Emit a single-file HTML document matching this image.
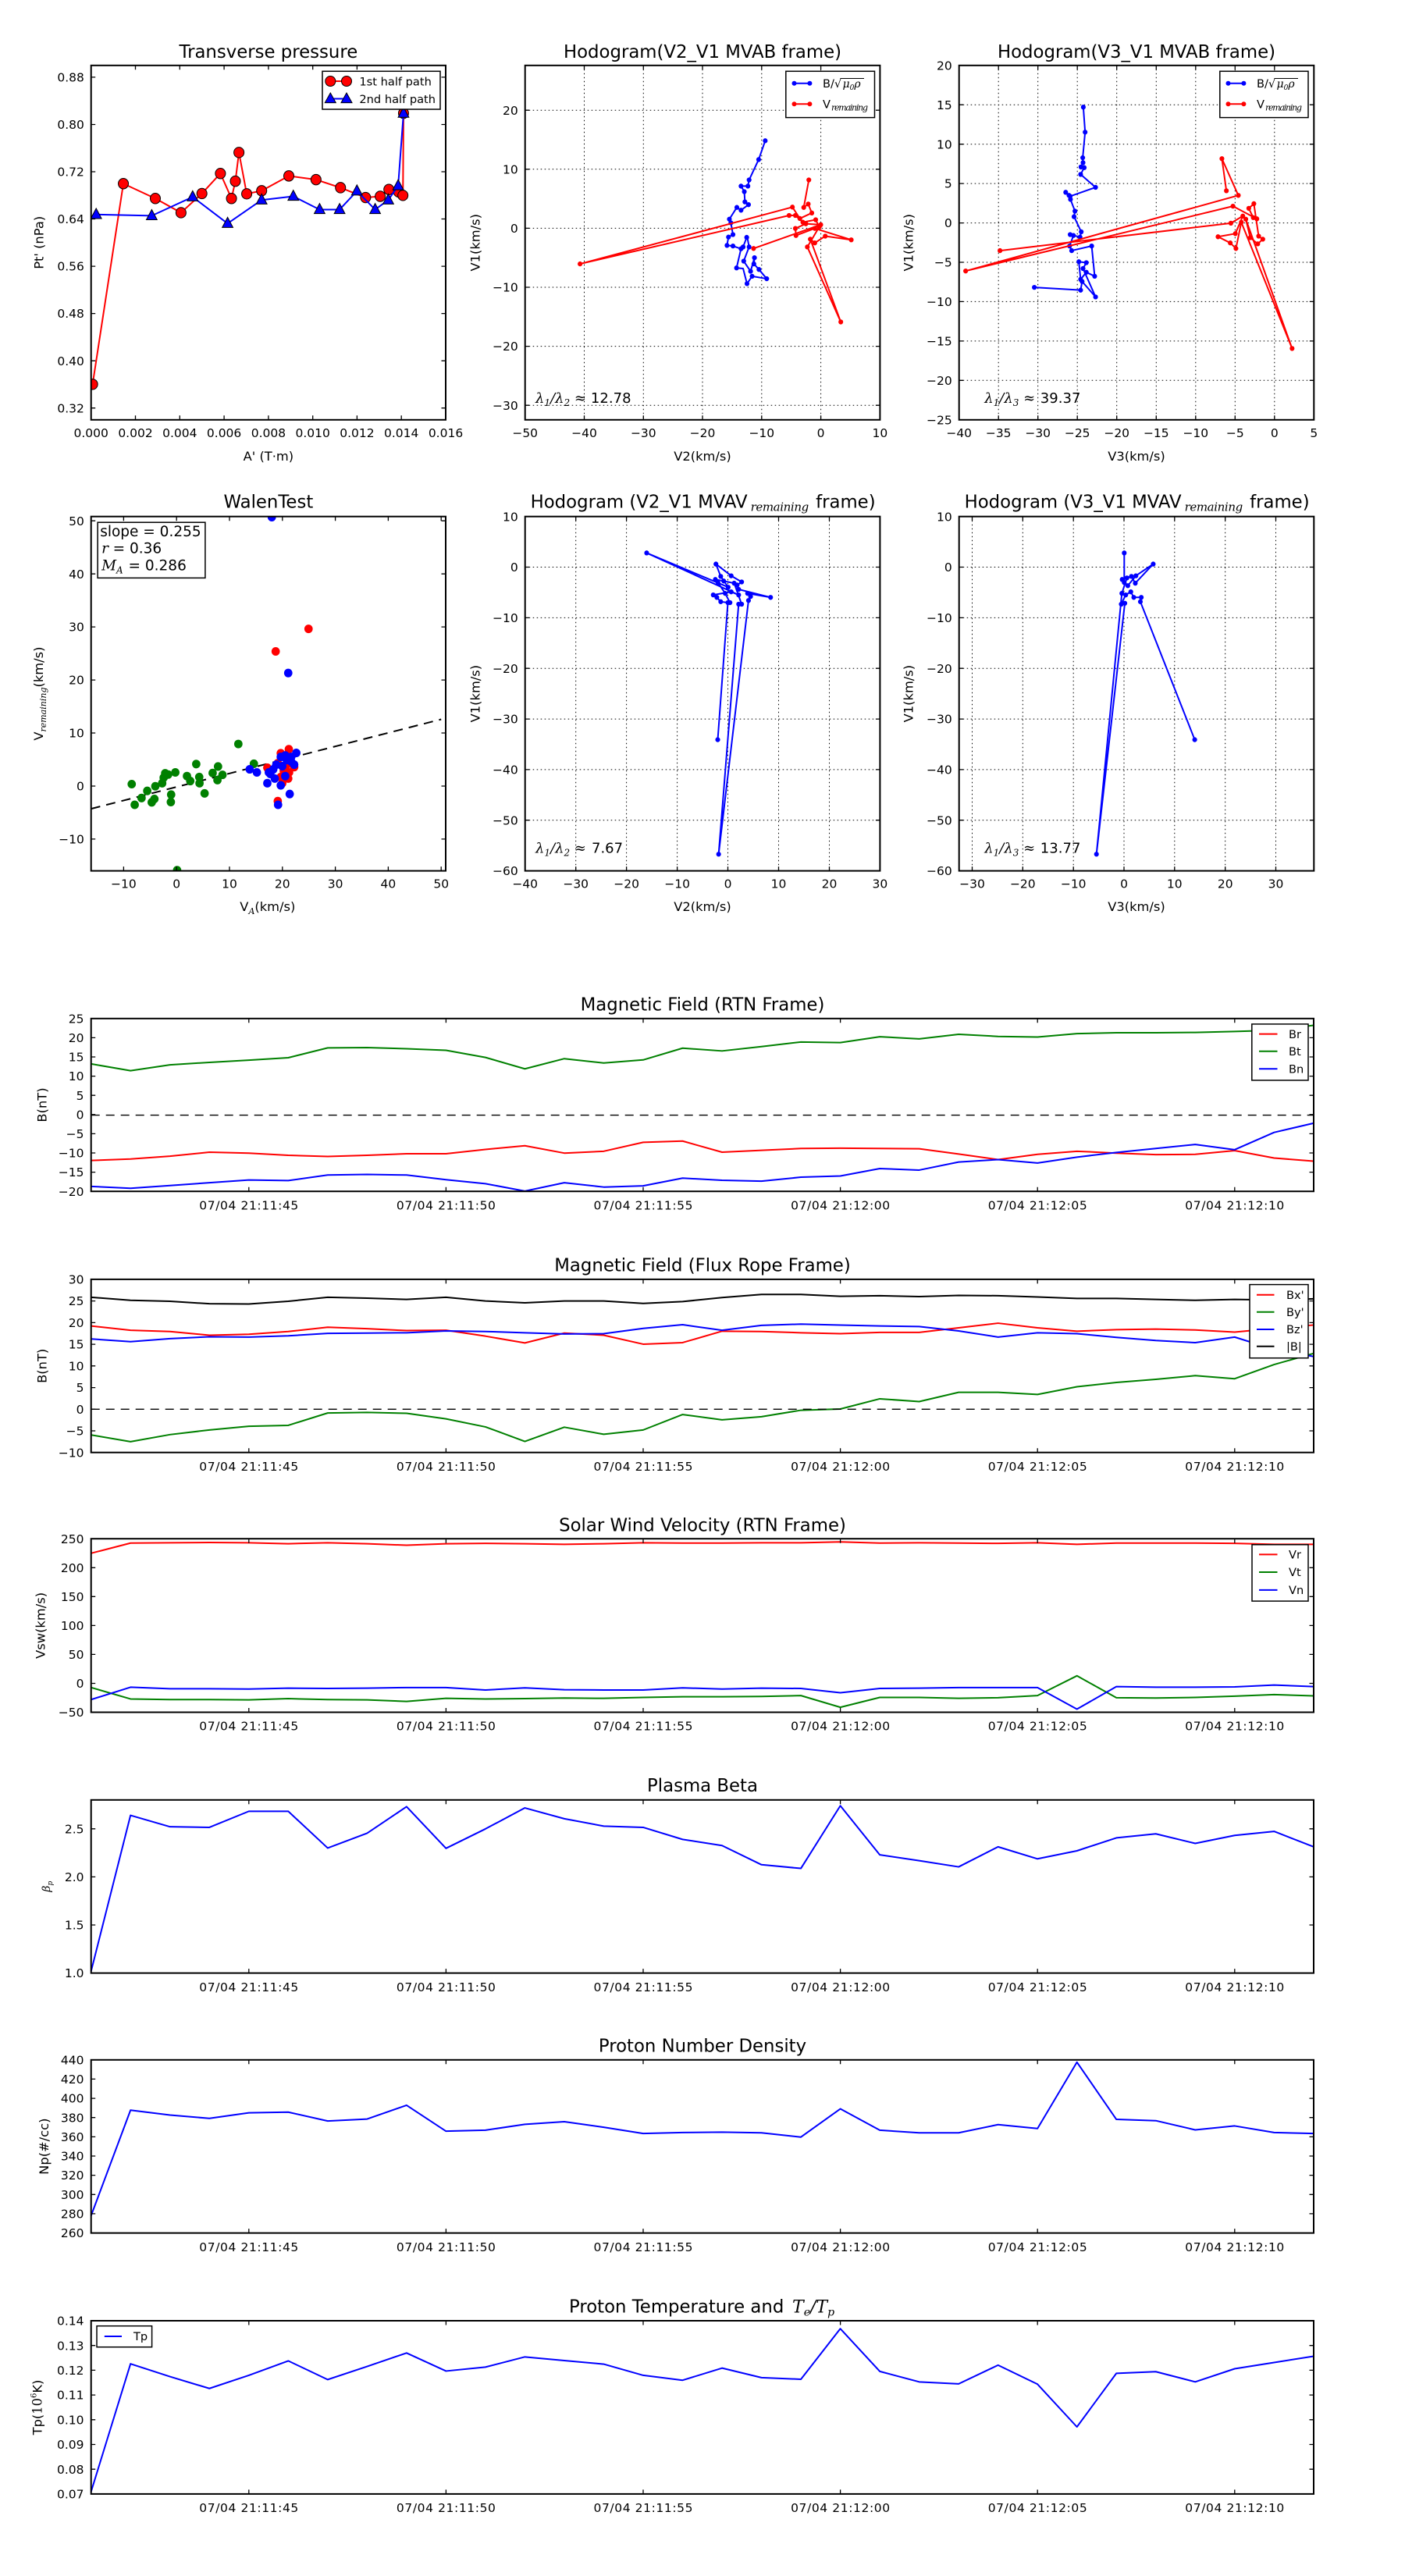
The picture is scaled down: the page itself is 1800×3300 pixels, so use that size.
<!DOCTYPE html>
<html><head><meta charset="utf-8">
<style>
html,body{margin:0;padding:0;background:#fff}
svg{display:block}
text{font-family:"DejaVu Sans","Liberation Sans",sans-serif;fill:#000}
.tk{font-size:15.5px}
.e{text-anchor:end}
.m{text-anchor:middle}
.lab{font-size:16.3px}
.ttl{font-size:22.8px;text-anchor:middle}
.ttls{font-size:22.8px}
.lg{font-size:14.6px}
.ser{font-family:"DejaVu Serif","Liberation Serif",serif;font-style:italic}
.fr{fill:none;stroke:#000;stroke-width:2}
.tick{stroke:#000;stroke-width:1.3;fill:none}
.grid{stroke:#000;stroke-width:1;stroke-dasharray:1.5 3.5;fill:none}
.ln{fill:none;stroke-width:2;stroke-linejoin:round;vector-effect:non-scaling-stroke}
</style></head><body>
<svg width="1800" height="3300" xmlns="http://www.w3.org/2000/svg">
<rect width="1800" height="3300" fill="#fff"/>
<defs>
<clipPath id="cTP"><rect x="116.7" y="83.8" width="454.3" height="454"/></clipPath>
<clipPath id="cW"><rect x="116.7" y="661.7" width="454.3" height="453.9"/></clipPath>
</defs>

<!-- ============ Transverse pressure ============ -->
<text class="ttl" x="343.9" y="73.9">Transverse pressure</text>
<g clip-path="url(#cTP)"><g transform="scale(0.38265 0.39541)">
<polyline class="ln" vector-effect="non-scaling-stroke" stroke="#f00" points="310,1245 413,595 520,643 606,689 676,627 738,562 775,643 788,587 800,494 826,628 876,618 967,570 1058,582 1140,608 1224,640 1273,636 1302,614 1335,622 1349,633 1351,367"/>
<g fill="#f00" stroke="#000" stroke-width="1" vector-effect="non-scaling-stroke">
<circle cx="310" cy="1245" r="17" vector-effect="non-scaling-stroke"/><circle cx="413" cy="595" r="17" vector-effect="non-scaling-stroke"/><circle cx="520" cy="643" r="17" vector-effect="non-scaling-stroke"/><circle cx="606" cy="689" r="17" vector-effect="non-scaling-stroke"/><circle cx="676" cy="627" r="17" vector-effect="non-scaling-stroke"/><circle cx="738" cy="562" r="17" vector-effect="non-scaling-stroke"/><circle cx="775" cy="643" r="17" vector-effect="non-scaling-stroke"/><circle cx="788" cy="587" r="17" vector-effect="non-scaling-stroke"/><circle cx="800" cy="494" r="17" vector-effect="non-scaling-stroke"/><circle cx="826" cy="628" r="17" vector-effect="non-scaling-stroke"/><circle cx="876" cy="618" r="17" vector-effect="non-scaling-stroke"/><circle cx="967" cy="570" r="17" vector-effect="non-scaling-stroke"/><circle cx="1058" cy="582" r="17" vector-effect="non-scaling-stroke"/><circle cx="1140" cy="608" r="17" vector-effect="non-scaling-stroke"/><circle cx="1224" cy="640" r="17" vector-effect="non-scaling-stroke"/><circle cx="1273" cy="636" r="17" vector-effect="non-scaling-stroke"/><circle cx="1302" cy="614" r="17" vector-effect="non-scaling-stroke"/><circle cx="1335" cy="622" r="17" vector-effect="non-scaling-stroke"/><circle cx="1349" cy="633" r="17" vector-effect="non-scaling-stroke"/><circle cx="1351" cy="367" r="17" vector-effect="non-scaling-stroke"/>
</g>
<polyline class="ln" vector-effect="non-scaling-stroke" stroke="#00f" points="322,695 508,699 645,638 762,724 876,648 982,636 1070,679 1137,679 1195,619 1256,679 1300,648 1333,602 1351,367"/>
<path fill="#00f" stroke="#000" stroke-width="1" vector-effect="non-scaling-stroke" d="M322 675l-18 33h36zM508 679l-18 33h36zM645 618l-18 33h36zM762 704l-18 33h36zM876 628l-18 33h36zM982 616l-18 33h36zM1070 659l-18 33h36zM1137 659l-18 33h36zM1195 599l-18 33h36zM1256 659l-18 33h36zM1300 628l-18 33h36zM1333 582l-18 33h36zM1351 347l-18 33h36z"/>
</g></g>
<rect class="fr" x="116.7" y="83.8" width="454.3" height="454"/>
<path class="tick" d="M173.5 537.8v-5.5M230.3 537.8v-5.5M287.1 537.8v-5.5M343.9 537.8v-5.5M400.7 537.8v-5.5M457.4 537.8v-5.5M514.2 537.8v-5.5M173.5 83.8v5.5M230.3 83.8v5.5M287.1 83.8v5.5M343.9 83.8v5.5M400.7 83.8v5.5M457.4 83.8v5.5M514.2 83.8v5.5M116.7 98.9h5.5M116.7 159.5h5.5M116.7 220h5.5M116.7 280.5h5.5M116.7 341.1h5.5M116.7 401.6h5.5M116.7 462.2h5.5M116.7 522.7h5.5M571 98.9h-5.5M571 159.5h-5.5M571 220h-5.5M571 280.5h-5.5M571 341.1h-5.5M571 401.6h-5.5M571 462.2h-5.5M571 522.7h-5.5"/>
<g class="tk m">
<text class="tk m" x="116.7" y="559.8">0.000</text><text class="tk m" x="173.5" y="559.8">0.002</text><text class="tk m" x="230.3" y="559.8">0.004</text><text class="tk m" x="287.1" y="559.8">0.006</text><text class="tk m" x="343.9" y="559.8">0.008</text><text class="tk m" x="400.7" y="559.8">0.010</text><text class="tk m" x="457.4" y="559.8">0.012</text><text class="tk m" x="514.2" y="559.8">0.014</text><text class="tk m" x="571" y="559.8">0.016</text>
</g>
<text class="tk e" x="107.9" y="104.5">0.88</text><text class="tk e" x="107.9" y="165.1">0.80</text><text class="tk e" x="107.9" y="225.6">0.72</text><text class="tk e" x="107.9" y="286.1">0.64</text><text class="tk e" x="107.9" y="346.7">0.56</text><text class="tk e" x="107.9" y="407.2">0.48</text><text class="tk e" x="107.9" y="467.8">0.40</text><text class="tk e" x="107.9" y="528.3">0.32</text>
<text class="lab m" x="343.9" y="590">A' (T·m)</text>
<text class="lab m" transform="translate(55.7 310.8) rotate(-90)">Pt' (nPa)</text>
<rect x="413" y="91.3" width="151" height="48.7" fill="#fff" stroke="#000" stroke-width="1.5"/>
<line x1="423.3" y1="104" x2="444" y2="104" stroke="#f00" stroke-width="2"/>
<circle cx="423.3" cy="104" r="6.5" fill="#f00" stroke="#000" stroke-width="1"/><circle cx="444" cy="104" r="6.5" fill="#f00" stroke="#000" stroke-width="1"/>
<text class="lg" x="460.4" y="109.4">1st half path</text>
<line x1="423.3" y1="126.5" x2="444" y2="126.5" stroke="#00f" stroke-width="2"/>
<path fill="#00f" stroke="#000" stroke-width="1" d="M423.3 119l-7 12.6h14zM444 119l-7 12.6h14z"/>
<text class="lg" x="460.4" y="131.8">2nd half path</text>

<!-- ============ Hodogram V2_V1 MVAB ============ -->
<text class="ttl" x="900" y="73.9">Hodogram(V2_V1 MVAB frame)</text>
<path class="grid" d="M748.5 83.8V537.8M824.3 83.8V537.8M900 83.8V537.8M975.8 83.8V537.8M1051.6 83.8V537.8M672.7 141.2H1127.4M672.7 216.8H1127.4M672.7 292.4H1127.4M672.7 368H1127.4M672.7 443.6H1127.4M672.7 519.2H1127.4"/>
<g transform="translate(600 0) scale(0.38265 0.39541)">
<polyline class="ln" vector-effect="non-scaling-stroke" stroke="#00f" points="994,456 972,517 940,583 936,603 913,603 924,621 926,654 938,663 913,681 899,672 874,710 879,722 886,760 871,768 866,795 886,797 913,806 920,800 932,769 935,774 940,800 922,846 945,879 958,835 956,855 973,873 999,903 950,895 933,919 920,870 898,868 913,806"/>
<g fill="#00f"><circle cx="994" cy="456" r="8"/><circle cx="972" cy="517" r="8"/><circle cx="940" cy="583" r="8"/><circle cx="936" cy="603" r="8"/><circle cx="913" cy="603" r="8"/><circle cx="924" cy="621" r="8"/><circle cx="926" cy="654" r="8"/><circle cx="938" cy="663" r="8"/><circle cx="913" cy="681" r="8"/><circle cx="899" cy="672" r="8"/><circle cx="874" cy="710" r="8"/><circle cx="879" cy="722" r="8"/><circle cx="886" cy="760" r="8"/><circle cx="871" cy="768" r="8"/><circle cx="866" cy="795" r="8"/><circle cx="886" cy="797" r="8"/><circle cx="913" cy="806" r="8"/><circle cx="920" cy="800" r="8"/><circle cx="932" cy="769" r="8"/><circle cx="940" cy="800" r="8"/><circle cx="922" cy="846" r="8"/><circle cx="945" cy="879" r="8"/><circle cx="958" cy="835" r="8"/><circle cx="956" cy="855" r="8"/><circle cx="973" cy="873" r="8"/><circle cx="999" cy="903" r="8"/><circle cx="950" cy="895" r="8"/><circle cx="933" cy="919" r="8"/><circle cx="898" cy="868" r="8"/></g>
<polyline class="ln" vector-effect="non-scaling-stroke" stroke="#f00" points="1140,583 1123,672 1138,661 1150,690 1110,708 1085,671 374,855 1074,698 1095,698 1120,720 1163,712 1175,735 1135,800 1247,1043 1145,775 1160,787 1195,765 1282,777 1160,740 1097,763 1095,740 1130,725 1180,728 955,805"/>
<g fill="#f00"><circle cx="1140" cy="583" r="8"/><circle cx="1123" cy="672" r="8"/><circle cx="1138" cy="661" r="8"/><circle cx="1150" cy="690" r="8"/><circle cx="1110" cy="708" r="8"/><circle cx="1085" cy="671" r="8"/><circle cx="374" cy="855" r="8"/><circle cx="1074" cy="698" r="8"/><circle cx="1095" cy="698" r="8"/><circle cx="1120" cy="720" r="8"/><circle cx="1163" cy="712" r="8"/><circle cx="1175" cy="735" r="8"/><circle cx="1135" cy="800" r="8"/><circle cx="1247" cy="1043" r="8"/><circle cx="1145" cy="775" r="8"/><circle cx="1160" cy="787" r="8"/><circle cx="1195" cy="765" r="8"/><circle cx="1282" cy="777" r="8"/><circle cx="1160" cy="740" r="8"/><circle cx="1097" cy="763" r="8"/><circle cx="1095" cy="740" r="8"/><circle cx="1130" cy="725" r="8"/><circle cx="1180" cy="728" r="8"/><circle cx="955" cy="805" r="8"/></g>
</g>
<rect class="fr" x="672.7" y="83.8" width="454.7" height="454"/>
<path class="tick" d="M748.5 537.8v-5.5M824.3 537.8v-5.5M900 537.8v-5.5M975.8 537.8v-5.5M1051.6 537.8v-5.5M748.5 83.8v5.5M824.3 83.8v5.5M900 83.8v5.5M975.8 83.8v5.5M1051.6 83.8v5.5M672.7 141.2h5.5M672.7 216.8h5.5M672.7 292.4h5.5M672.7 368h5.5M672.7 443.6h5.5M672.7 519.2h5.5M1127.4 141.2h-5.5M1127.4 216.8h-5.5M1127.4 292.4h-5.5M1127.4 368h-5.5M1127.4 443.6h-5.5M1127.4 519.2h-5.5"/>
<text class="tk m" x="672.7" y="559.8">−50</text><text class="tk m" x="748.5" y="559.8">−40</text><text class="tk m" x="824.3" y="559.8">−30</text><text class="tk m" x="900" y="559.8">−20</text><text class="tk m" x="975.8" y="559.8">−10</text><text class="tk m" x="1051.6" y="559.8">0</text><text class="tk m" x="1127.4" y="559.8">10</text>
<text class="tk e" x="663.7" y="146.8">20</text><text class="tk e" x="663.7" y="222.4">10</text><text class="tk e" x="663.7" y="298">0</text><text class="tk e" x="663.7" y="373.6">−10</text><text class="tk e" x="663.7" y="449.2">−20</text><text class="tk e" x="663.7" y="524.8">−30</text>
<text class="lab m" x="900" y="590">V2(km/s)</text>
<text class="lab m" transform="translate(614.3 310.8) rotate(-90)">V1(km/s)</text>
<text class="ser" x="686" y="516" font-size="18">λ<tspan font-size="12" dy="4">1</tspan><tspan dy="-4">/λ</tspan><tspan font-size="12" dy="4">2</tspan><tspan dy="-4"> ≈</tspan></text>
<text x="756.9" y="516" font-size="18" textLength="51.7">12.78</text>
<rect x="1006.8" y="91.3" width="113.7" height="59.3" fill="#fff" stroke="#000" stroke-width="1.5"/>
<line x1="1017.5" y1="106.8" x2="1037.4" y2="106.8" stroke="#00f" stroke-width="2"/><circle cx="1017.5" cy="106.8" r="3" fill="#00f"/><circle cx="1037.4" cy="106.8" r="3" fill="#00f"/>
<text class="lg" x="1054" y="112">B/√</text><line x1="1076.4" y1="100.5" x2="1107" y2="100.5" stroke="#000" stroke-width="0.9"/>
<text class="ser" x="1079.5" y="112" font-size="14">μ<tspan font-size="9" dy="3">0</tspan><tspan dy="-3">ρ</tspan></text>
<line x1="1017.5" y1="133.3" x2="1037.4" y2="133.3" stroke="#f00" stroke-width="2"/><circle cx="1017.5" cy="133.3" r="3" fill="#f00"/><circle cx="1037.4" cy="133.3" r="3" fill="#f00"/>
<text class="lg" x="1054" y="138.5">V</text><text class="ser" x="1065" y="141.5" font-size="11" textLength="47">remaining</text>

<!-- ============ Hodogram V3_V1 MVAB ============ -->
<text class="ttl" x="1456" y="73.9">Hodogram(V3_V1 MVAB frame)</text>
<path class="grid" d="M1279.2 83.8V537.8M1329.7 83.8V537.8M1380.2 83.8V537.8M1430.7 83.8V537.8M1481.3 83.8V537.8M1531.8 83.8V537.8M1582.3 83.8V537.8M1632.8 83.8V537.8M1228.7 134.2H1683.3M1228.7 184.7H1683.3M1228.7 235.1H1683.3M1228.7 285.6H1683.3M1228.7 336H1683.3M1228.7 386.4H1683.3M1228.7 436.9H1683.3M1228.7 487.3H1683.3"/>
<g transform="translate(1200 0) scale(0.38265 0.39541)">
<polyline class="ln" vector-effect="non-scaling-stroke" stroke="#00f" points="491,347 497,428 489,511 490,527 483,541 494,543 482,565 532,607 447,636 432,623 443,633 448,646 463,684 460,702 484,751 480,768 447,760 458,763 445,797 452,812 519,797 529,895 501,882 482,905 476,848 501,851 490,870 532,962 487,912 482,940 327,931"/>
<g fill="#00f"><circle cx="491" cy="347" r="8"/><circle cx="497" cy="428" r="8"/><circle cx="489" cy="511" r="8"/><circle cx="490" cy="527" r="8"/><circle cx="483" cy="541" r="8"/><circle cx="494" cy="543" r="8"/><circle cx="482" cy="565" r="8"/><circle cx="532" cy="607" r="8"/><circle cx="447" cy="636" r="8"/><circle cx="432" cy="623" r="8"/><circle cx="443" cy="633" r="8"/><circle cx="448" cy="646" r="8"/><circle cx="463" cy="684" r="8"/><circle cx="460" cy="702" r="8"/><circle cx="484" cy="751" r="8"/><circle cx="480" cy="768" r="8"/><circle cx="447" cy="760" r="8"/><circle cx="458" cy="763" r="8"/><circle cx="445" cy="797" r="8"/><circle cx="452" cy="812" r="8"/><circle cx="519" cy="797" r="8"/><circle cx="529" cy="895" r="8"/><circle cx="501" cy="882" r="8"/><circle cx="482" cy="905" r="8"/><circle cx="476" cy="848" r="8"/><circle cx="501" cy="851" r="8"/><circle cx="490" cy="870" r="8"/><circle cx="532" cy="962" r="8"/><circle cx="487" cy="912" r="8"/><circle cx="482" cy="940" r="8"/><circle cx="327" cy="931" r="8"/></g>
<polyline class="ln" vector-effect="non-scaling-stroke" stroke="#f00" points="212,812 985,723 1025,700 1000,757 942,767 983,787 1002,805 1020,720 1190,1129 1035,710 1050,770 1075,790 1092,775 1078,765 1062,660 1045,675 1060,705 1072,709 992,668 97,878 1010,633 955,514 970,618"/>
<g fill="#f00"><circle cx="212" cy="812" r="8"/><circle cx="985" cy="723" r="8"/><circle cx="1025" cy="700" r="8"/><circle cx="1000" cy="757" r="8"/><circle cx="942" cy="767" r="8"/><circle cx="983" cy="787" r="8"/><circle cx="1002" cy="805" r="8"/><circle cx="1020" cy="720" r="8"/><circle cx="1190" cy="1129" r="8"/><circle cx="1035" cy="710" r="8"/><circle cx="1050" cy="770" r="8"/><circle cx="1075" cy="790" r="8"/><circle cx="1092" cy="775" r="8"/><circle cx="1078" cy="765" r="8"/><circle cx="1062" cy="660" r="8"/><circle cx="1045" cy="675" r="8"/><circle cx="1060" cy="705" r="8"/><circle cx="1072" cy="709" r="8"/><circle cx="992" cy="668" r="8"/><circle cx="97" cy="878" r="8"/><circle cx="1010" cy="633" r="8"/><circle cx="955" cy="514" r="8"/><circle cx="970" cy="618" r="8"/></g>
</g>
<rect class="fr" x="1228.7" y="83.8" width="454.6" height="454"/>
<path class="tick" d="M1279.2 537.8v-5.5M1329.7 537.8v-5.5M1380.2 537.8v-5.5M1430.7 537.8v-5.5M1481.3 537.8v-5.5M1531.8 537.8v-5.5M1582.3 537.8v-5.5M1632.8 537.8v-5.5M1279.2 83.8v5.5M1329.7 83.8v5.5M1380.2 83.8v5.5M1430.7 83.8v5.5M1481.3 83.8v5.5M1531.8 83.8v5.5M1582.3 83.8v5.5M1632.8 83.8v5.5M1228.7 134.2h5.5M1228.7 184.7h5.5M1228.7 235.1h5.5M1228.7 285.6h5.5M1228.7 336h5.5M1228.7 386.4h5.5M1228.7 436.9h5.5M1228.7 487.3h5.5M1683.3 134.2h-5.5M1683.3 184.7h-5.5M1683.3 235.1h-5.5M1683.3 285.6h-5.5M1683.3 336h-5.5M1683.3 386.4h-5.5M1683.3 436.9h-5.5M1683.3 487.3h-5.5"/>
<text class="tk m" x="1228.7" y="559.8">−40</text><text class="tk m" x="1279.2" y="559.8">−35</text><text class="tk m" x="1329.7" y="559.8">−30</text><text class="tk m" x="1380.2" y="559.8">−25</text><text class="tk m" x="1430.7" y="559.8">−20</text><text class="tk m" x="1481.3" y="559.8">−15</text><text class="tk m" x="1531.8" y="559.8">−10</text><text class="tk m" x="1582.3" y="559.8">−5</text><text class="tk m" x="1632.8" y="559.8">0</text><text class="tk m" x="1683.3" y="559.8">5</text>
<text class="tk e" x="1219.7" y="89.4">20</text><text class="tk e" x="1219.7" y="139.8">15</text><text class="tk e" x="1219.7" y="190.3">10</text><text class="tk e" x="1219.7" y="240.7">5</text><text class="tk e" x="1219.7" y="291.2">0</text><text class="tk e" x="1219.7" y="341.6">−5</text><text class="tk e" x="1219.7" y="392">−10</text><text class="tk e" x="1219.7" y="442.5">−15</text><text class="tk e" x="1219.7" y="492.9">−20</text><text class="tk e" x="1219.7" y="543.4">−25</text>
<text class="lab m" x="1456" y="590">V3(km/s)</text>
<text class="lab m" transform="translate(1169.6 310.8) rotate(-90)">V1(km/s)</text>
<text class="ser" x="1261.2" y="516" font-size="18">λ<tspan font-size="12" dy="4">1</tspan><tspan dy="-4">/λ</tspan><tspan font-size="12" dy="4">3</tspan><tspan dy="-4"> ≈</tspan></text>
<text x="1332.8" y="516" font-size="18" textLength="51.7">39.37</text>
<rect x="1562.8" y="91.3" width="113.2" height="59.3" fill="#fff" stroke="#000" stroke-width="1.5"/>
<line x1="1573.5" y1="106.8" x2="1593.4" y2="106.8" stroke="#00f" stroke-width="2"/><circle cx="1573.5" cy="106.8" r="3" fill="#00f"/><circle cx="1593.4" cy="106.8" r="3" fill="#00f"/>
<text class="lg" x="1610" y="112">B/√</text><line x1="1632.4" y1="100.5" x2="1663" y2="100.5" stroke="#000" stroke-width="0.9"/>
<text class="ser" x="1635.5" y="112" font-size="14">μ<tspan font-size="9" dy="3">0</tspan><tspan dy="-3">ρ</tspan></text>
<line x1="1573.5" y1="133.3" x2="1593.4" y2="133.3" stroke="#f00" stroke-width="2"/><circle cx="1573.5" cy="133.3" r="3" fill="#f00"/><circle cx="1593.4" cy="133.3" r="3" fill="#f00"/>
<text class="lg" x="1610" y="138.5">V</text><text class="ser" x="1621" y="141.5" font-size="11" textLength="47">remaining</text>

<!-- ============ Walen Test ============ -->
<text class="ttl" x="343.9" y="650.6">WalenTest</text>
<g clip-path="url(#cW)">
<line x1="116.7" y1="1036.1" x2="565.2" y2="921.5" stroke="#000" stroke-width="2" stroke-dasharray="12 8"/>
<g transform="translate(0 600) scale(0.38265 0.39541)">
<g fill="#008000"><circle cx="441" cy="1023" r="14"/><circle cx="451" cy="1090" r="14"/><circle cx="474" cy="1068" r="14"/><circle cx="493" cy="1045" r="14"/><circle cx="508" cy="1082" r="14"/><circle cx="517" cy="1071" r="14"/><circle cx="520" cy="1030" r="14"/><circle cx="543" cy="1020" r="14"/><circle cx="548" cy="1002" r="14"/><circle cx="553" cy="988" r="14"/><circle cx="563" cy="992" r="14"/><circle cx="573" cy="1057" r="14"/><circle cx="572" cy="1081" r="14"/><circle cx="587" cy="985" r="14"/><circle cx="626" cy="997" r="14"/><circle cx="637" cy="1013" r="14"/><circle cx="657" cy="958" r="14"/><circle cx="667" cy="1000" r="14"/><circle cx="668" cy="1020" r="14"/><circle cx="685" cy="1053" r="14"/><circle cx="712" cy="987" r="14"/><circle cx="730" cy="966" r="14"/><circle cx="728" cy="1010" r="14"/><circle cx="745" cy="993" r="14"/><circle cx="798" cy="893" r="14"/><circle cx="850" cy="957" r="14"/><circle cx="593" cy="1302" r="14"/></g>
<g fill="#f00"><circle cx="923" cy="593" r="14"/><circle cx="1033" cy="520" r="14"/><circle cx="940" cy="923" r="14"/><circle cx="967" cy="910" r="14"/><circle cx="930" cy="1078" r="14"/><circle cx="895" cy="970" r="14"/><circle cx="930" cy="955" r="14"/><circle cx="985" cy="968" r="14"/><circle cx="965" cy="1005" r="14"/><circle cx="950" cy="980" r="14"/><circle cx="970" cy="940" r="14"/><circle cx="960" cy="960" r="14"/><circle cx="940" cy="1000" r="14"/><circle cx="945" cy="1020" r="14"/><circle cx="968" cy="985" r="14"/></g>
<g fill="#00f"><circle cx="910" cy="158" r="14"/><circle cx="965" cy="663" r="14"/><circle cx="836" cy="975" r="14"/><circle cx="860" cy="985" r="14"/><circle cx="895" cy="1020" r="14"/><circle cx="931" cy="1090" r="14"/><circle cx="970" cy="1055" r="14"/><circle cx="940" cy="1027" r="14"/><circle cx="955" cy="997" r="14"/><circle cx="905" cy="990" r="14"/><circle cx="915" cy="975" r="14"/><circle cx="925" cy="960" r="14"/><circle cx="940" cy="935" r="14"/><circle cx="955" cy="930" r="14"/><circle cx="975" cy="935" r="14"/><circle cx="992" cy="922" r="14"/><circle cx="985" cy="960" r="14"/><circle cx="900" cy="985" r="14"/><circle cx="920" cy="1005" r="14"/><circle cx="945" cy="965" r="14"/><circle cx="960" cy="945" r="14"/><circle cx="975" cy="950" r="14"/></g>
</g></g>
<rect class="fr" x="116.7" y="661.7" width="454.3" height="453.9"/>
<path class="tick" d="M158.4 1115.6v-5.5M226.2 1115.6v-5.5M294 1115.6v-5.5M361.8 1115.6v-5.5M429.6 1115.6v-5.5M497.4 1115.6v-5.5M565.2 1115.6v-5.5M158.4 661.7v5.5M226.2 661.7v5.5M294 661.7v5.5M361.8 661.7v5.5M429.6 661.7v5.5M497.4 661.7v5.5M565.2 661.7v5.5M116.7 667.2h5.5M116.7 735.2h5.5M116.7 803.1h5.5M116.7 871.1h5.5M116.7 939h5.5M116.7 1007h5.5M116.7 1074.9h5.5M571 667.2h-5.5M571 735.2h-5.5M571 803.1h-5.5M571 871.1h-5.5M571 939h-5.5M571 1007h-5.5M571 1074.9h-5.5"/>
<text class="tk m" x="158.4" y="1137.6">−10</text><text class="tk m" x="226.2" y="1137.6">0</text><text class="tk m" x="294" y="1137.6">10</text><text class="tk m" x="361.8" y="1137.6">20</text><text class="tk m" x="429.6" y="1137.6">30</text><text class="tk m" x="497.4" y="1137.6">40</text><text class="tk m" x="565.2" y="1137.6">50</text>
<text class="tk e" x="107.9" y="672.8">50</text><text class="tk e" x="107.9" y="740.8">40</text><text class="tk e" x="107.9" y="808.7">30</text><text class="tk e" x="107.9" y="876.7">20</text><text class="tk e" x="107.9" y="944.6">10</text><text class="tk e" x="107.9" y="1012.6">0</text><text class="tk e" x="107.9" y="1080.5">−10</text>
<text class="lab" x="307.3" y="1167">V<tspan class="ser" font-size="11" dy="4">A</tspan><tspan dy="-4">(km/s)</tspan></text>
<text class="lab m" transform="translate(55 888.6) rotate(-90)">V<tspan class="ser" font-size="11" dy="4">remaining</tspan><tspan dy="-4">(km/s)</tspan></text>
<rect x="125.1" y="669.2" width="137.8" height="71.2" fill="#fff" stroke="#000" stroke-width="1.5"/>
<text x="128.2" y="687" font-size="18.5">slope = 0.255</text>
<text class="ser" x="130.1" y="708.7" font-size="18.5">r</text><text x="144.6" y="708.7" font-size="18.5">= 0.36</text>
<text class="ser" x="130.1" y="730.5" font-size="18.5">M<tspan font-size="12" dy="4">A</tspan></text><text x="164.5" y="730.5" font-size="18.5">= 0.286</text>

<!-- ============ Hodogram V2_V1 MVAV ============ -->
<text class="ttls" x="679.6" y="650.6">Hodogram (V2_V1 MVAV</text>
<text class="ser" x="961.6" y="654.6" font-size="15" textLength="74.6">remaining</text>
<text class="ttls" x="1045.1" y="650.6">frame)</text>
<path class="grid" d="M737.7 661.7V1115.6M802.6 661.7V1115.6M867.6 661.7V1115.6M932.5 661.7V1115.6M997.5 661.7V1115.6M1062.5 661.7V1115.6M672.7 726.5H1127.4M672.7 791.4H1127.4M672.7 856.2H1127.4M672.7 921.1H1127.4M672.7 985.9H1127.4M672.7 1050.7H1127.4"/>
<g transform="translate(600 600) scale(0.38265 0.39541)">
<polyline class="ln" vector-effect="non-scaling-stroke" stroke="#00f" points="835,879 869,435 845,432 832,418 820,410 880,400 905,410 597,274 870,385 845,350 829,310 880,348 915,368 900,378 905,392 1012,418 935,405 945,415 938,428 838,1250 905,440 915,440 890,372 855,365 827,360 836,370 860,405 876,435"/>
<g fill="#00f"><circle cx="835" cy="879" r="8"/><circle cx="869" cy="435" r="8"/><circle cx="845" cy="432" r="8"/><circle cx="832" cy="418" r="8"/><circle cx="820" cy="410" r="8"/><circle cx="880" cy="400" r="8"/><circle cx="905" cy="410" r="8"/><circle cx="597" cy="274" r="8"/><circle cx="870" cy="385" r="8"/><circle cx="845" cy="350" r="8"/><circle cx="829" cy="310" r="8"/><circle cx="880" cy="348" r="8"/><circle cx="915" cy="368" r="8"/><circle cx="900" cy="378" r="8"/><circle cx="905" cy="392" r="8"/><circle cx="1012" cy="418" r="8"/><circle cx="935" cy="405" r="8"/><circle cx="945" cy="415" r="8"/><circle cx="938" cy="428" r="8"/><circle cx="838" cy="1250" r="8"/><circle cx="905" cy="440" r="8"/><circle cx="915" cy="440" r="8"/><circle cx="890" cy="372" r="8"/><circle cx="855" cy="365" r="8"/><circle cx="827" cy="360" r="8"/><circle cx="836" cy="370" r="8"/><circle cx="860" cy="405" r="8"/><circle cx="876" cy="435" r="8"/></g>
</g>
<rect class="fr" x="672.7" y="661.7" width="454.7" height="453.9"/>
<path class="tick" d="M737.7 1115.6v-5.5M802.6 1115.6v-5.5M867.6 1115.6v-5.5M932.5 1115.6v-5.5M997.5 1115.6v-5.5M1062.5 1115.6v-5.5M737.7 661.7v5.5M802.6 661.7v5.5M867.6 661.7v5.5M932.5 661.7v5.5M997.5 661.7v5.5M1062.5 661.7v5.5M672.7 726.5h5.5M672.7 791.4h5.5M672.7 856.2h5.5M672.7 921.1h5.5M672.7 985.9h5.5M672.7 1050.7h5.5M1127.4 726.5h-5.5M1127.4 791.4h-5.5M1127.4 856.2h-5.5M1127.4 921.1h-5.5M1127.4 985.9h-5.5M1127.4 1050.7h-5.5"/>
<text class="tk m" x="672.7" y="1137.6">−40</text><text class="tk m" x="737.7" y="1137.6">−30</text><text class="tk m" x="802.6" y="1137.6">−20</text><text class="tk m" x="867.6" y="1137.6">−10</text><text class="tk m" x="932.5" y="1137.6">0</text><text class="tk m" x="997.5" y="1137.6">10</text><text class="tk m" x="1062.5" y="1137.6">20</text><text class="tk m" x="1127.4" y="1137.6">30</text>
<text class="tk e" x="663.7" y="667.3">10</text><text class="tk e" x="663.7" y="732.1">0</text><text class="tk e" x="663.7" y="797">−10</text><text class="tk e" x="663.7" y="861.8">−20</text><text class="tk e" x="663.7" y="926.7">−30</text><text class="tk e" x="663.7" y="991.5">−40</text><text class="tk e" x="663.7" y="1056.3">−50</text><text class="tk e" x="663.7" y="1121.2">−60</text>
<text class="lab m" x="900" y="1167">V2(km/s)</text>
<text class="lab m" transform="translate(614.3 888.6) rotate(-90)">V1(km/s)</text>
<text class="ser" x="686" y="1092.3" font-size="18">λ<tspan font-size="12" dy="4">1</tspan><tspan dy="-4">/λ</tspan><tspan font-size="12" dy="4">2</tspan><tspan dy="-4"> ≈</tspan></text>
<text x="758" y="1092.3" font-size="18">7.67</text>

<!-- ============ Hodogram V3_V1 MVAV ============ -->
<text class="ttls" x="1235.6" y="650.6">Hodogram (V3_V1 MVAV</text>
<text class="ser" x="1517.6" y="654.6" font-size="15" textLength="74.6">remaining</text>
<text class="ttls" x="1601.1" y="650.6">frame)</text>
<path class="grid" d="M1245.5 661.7V1115.6M1310.3 661.7V1115.6M1375.2 661.7V1115.6M1440 661.7V1115.6M1504.8 661.7V1115.6M1569.7 661.7V1115.6M1634.5 661.7V1115.6M1228.7 726.5H1683.3M1228.7 791.4H1683.3M1228.7 856.2H1683.3M1228.7 921.1H1683.3M1228.7 985.9H1683.3M1228.7 1050.7H1683.3"/>
<g transform="translate(1200 600) scale(0.38265 0.39541)">
<polyline class="ln" vector-effect="non-scaling-stroke" stroke="#00f" points="628,274 628,370 621,360 640,380 667,348 725,310 665,372 652,350 637,355 620,405 535,1250 630,437 618,440 633,410 650,400 660,418 685,418 682,432 864,879"/>
<g fill="#00f"><circle cx="628" cy="274" r="8"/><circle cx="628" cy="370" r="8"/><circle cx="621" cy="360" r="8"/><circle cx="640" cy="380" r="8"/><circle cx="667" cy="348" r="8"/><circle cx="725" cy="310" r="8"/><circle cx="665" cy="372" r="8"/><circle cx="652" cy="350" r="8"/><circle cx="637" cy="355" r="8"/><circle cx="620" cy="405" r="8"/><circle cx="535" cy="1250" r="8"/><circle cx="630" cy="437" r="8"/><circle cx="618" cy="440" r="8"/><circle cx="633" cy="410" r="8"/><circle cx="650" cy="400" r="8"/><circle cx="660" cy="418" r="8"/><circle cx="685" cy="418" r="8"/><circle cx="682" cy="432" r="8"/><circle cx="864" cy="879" r="8"/></g>
</g>
<rect class="fr" x="1228.7" y="661.7" width="454.6" height="453.9"/>
<path class="tick" d="M1245.5 1115.6v-5.5M1310.3 1115.6v-5.5M1375.2 1115.6v-5.5M1440 1115.6v-5.5M1504.8 1115.6v-5.5M1569.7 1115.6v-5.5M1634.5 1115.6v-5.5M1245.5 661.7v5.5M1310.3 661.7v5.5M1375.2 661.7v5.5M1440 661.7v5.5M1504.8 661.7v5.5M1569.7 661.7v5.5M1634.5 661.7v5.5M1228.7 726.5h5.5M1228.7 791.4h5.5M1228.7 856.2h5.5M1228.7 921.1h5.5M1228.7 985.9h5.5M1228.7 1050.7h5.5M1683.3 726.5h-5.5M1683.3 791.4h-5.5M1683.3 856.2h-5.5M1683.3 921.1h-5.5M1683.3 985.9h-5.5M1683.3 1050.7h-5.5"/>
<text class="tk m" x="1245.5" y="1137.6">−30</text><text class="tk m" x="1310.3" y="1137.6">−20</text><text class="tk m" x="1375.2" y="1137.6">−10</text><text class="tk m" x="1440" y="1137.6">0</text><text class="tk m" x="1504.8" y="1137.6">10</text><text class="tk m" x="1569.7" y="1137.6">20</text><text class="tk m" x="1634.5" y="1137.6">30</text>
<text class="tk e" x="1219.7" y="667.3">10</text><text class="tk e" x="1219.7" y="732.1">0</text><text class="tk e" x="1219.7" y="797">−10</text><text class="tk e" x="1219.7" y="861.8">−20</text><text class="tk e" x="1219.7" y="926.7">−30</text><text class="tk e" x="1219.7" y="991.5">−40</text><text class="tk e" x="1219.7" y="1056.3">−50</text><text class="tk e" x="1219.7" y="1121.2">−60</text>
<text class="lab m" x="1456" y="1167">V3(km/s)</text>
<text class="lab m" transform="translate(1169.6 888.6) rotate(-90)">V1(km/s)</text>
<text class="ser" x="1261.2" y="1092.3" font-size="18">λ<tspan font-size="12" dy="4">1</tspan><tspan dy="-4">/λ</tspan><tspan font-size="12" dy="4">3</tspan><tspan dy="-4"> ≈</tspan></text>
<text x="1332.8" y="1092.3" font-size="18" textLength="51.7">13.77</text>

<!-- ============ P1 Magnetic Field RTN ============ -->
<text class="ttl" x="900" y="1294.3">Magnetic Field (RTN Frame)</text>
<line x1="116.7" y1="1428.6" x2="1683" y2="1428.6" stroke="#000" stroke-width="1.4" stroke-dasharray="11 8"/>
<g transform="translate(116.7 1270) scale(50.52 0.39541)">
<polyline class="ln" vector-effect="non-scaling-stroke" stroke="#f00" points="0,548 1,543 2,534 3,521 4,524 5,531 6,535 7,531 8,526 9,526 10,512 11,500 12,524 13,518 14,489 15,485 16,521 17,515 18,509 19,508 20,509 21,510 22,527 23,545 24,528 25,518 26,524 27,529 28,528 29,516 30,540 31,550"/>
<polyline class="ln" vector-effect="non-scaling-stroke" stroke="#008000" points="0,235 1,257 2,238 3,230 4,223 5,215 6,183 7,182 8,186 9,191 10,214 11,251 12,218 13,232 14,222 15,184 16,193 17,179 18,164 19,166 20,147 21,154 22,139 23,146 24,148 25,137 26,134 27,134 28,133 29,130 30,126 31,110"/>
<polyline class="ln" vector-effect="non-scaling-stroke" stroke="#00f" points="0,632 1,638 2,629 3,620 4,611 5,613 6,595 7,593 8,595 9,610 10,623 11,647 12,620 13,634 14,630 15,605 16,612 17,615 18,602 19,598 20,574 21,579 22,553 23,545 24,556 25,537 26,522 27,509 28,496 29,513 30,457 31,427"/>
<!-- P2 -->
<polyline class="ln" vector-effect="non-scaling-stroke" stroke="#f00" points="0,1084 1,1098 2,1102 3,1114 4,1111 5,1102 6,1088 7,1093 8,1099 9,1098 10,1117 11,1139 12,1107 13,1114 14,1143 15,1138 16,1101 17,1102 18,1106 19,1109 20,1105 21,1105 22,1090 23,1075 24,1090 25,1101 26,1096 27,1094 28,1097 29,1104 30,1092 31,1081"/>
<polyline class="ln" vector-effect="non-scaling-stroke" stroke="#008000" points="0,1437 1,1459 2,1436 3,1421 4,1409 5,1406 6,1366 7,1364 8,1367 9,1385 10,1411 11,1458 12,1412 13,1435 14,1421 15,1371 16,1388 17,1378 18,1357 19,1353 20,1320 21,1329 22,1299 23,1299 24,1306 25,1281 26,1267 27,1257 28,1245 29,1255 30,1209 31,1173"/>
<polyline class="ln" vector-effect="non-scaling-stroke" stroke="#00f" points="0,1126 1,1135 2,1125 3,1119 4,1120 5,1116 6,1108 7,1107 8,1106 9,1100 10,1102 11,1106 12,1110 13,1109 14,1092 15,1080 16,1098 17,1082 18,1078 19,1081 20,1084 21,1086 22,1100 23,1120 24,1106 25,1109 26,1121 27,1131 28,1138 29,1120 30,1160 31,1183"/>
<polyline class="ln" vector-effect="non-scaling-stroke" stroke="#000" points="0,991 1,1001 2,1004 3,1012 4,1013 5,1004 6,991 7,994 8,998 9,991 10,1003 11,1009 12,1003 13,1003 14,1011 15,1005 16,992 17,982 18,982 19,988 20,986 21,989 22,985 23,986 24,990 25,995 26,995 27,998 28,1001 29,998 30,1000 31,996"/>
</g>
<rect class="fr" x="116.7" y="1304.8" width="1566.3" height="221.4"/>
<path class="tick" d="M318.8 1526.2v-5.5M571.4 1526.2v-5.5M824 1526.2v-5.5M1076.6 1526.2v-5.5M1329.2 1526.2v-5.5M1581.8 1526.2v-5.5M318.8 1304.8v5.5M571.4 1304.8v5.5M824 1304.8v5.5M1076.6 1304.8v5.5M1329.2 1304.8v5.5M1581.8 1304.8v5.5M116.7 1329.4h5.5M116.7 1354h5.5M116.7 1378.6h5.5M116.7 1403.2h5.5M116.7 1427.8h5.5M116.7 1452.4h5.5M116.7 1477h5.5M116.7 1501.6h5.5M1683 1329.4h-5.5M1683 1354h-5.5M1683 1378.6h-5.5M1683 1403.2h-5.5M1683 1427.8h-5.5M1683 1452.4h-5.5M1683 1477h-5.5M1683 1501.6h-5.5"/>
<text class="tk e" x="107.5" y="1310.4">25</text><text class="tk e" x="107.5" y="1335">20</text><text class="tk e" x="107.5" y="1359.6">15</text><text class="tk e" x="107.5" y="1384.2">10</text><text class="tk e" x="107.5" y="1408.8">5</text><text class="tk e" x="107.5" y="1433.4">0</text><text class="tk e" x="107.5" y="1458">−5</text><text class="tk e" x="107.5" y="1482.6">−10</text><text class="tk e" x="107.5" y="1507.2">−15</text><text class="tk e" x="107.5" y="1531.8">−20</text>
<g font-size="15.5"><text class="m" x="318.8" y="1549.4" textLength="127" font-size="15.5">07/04 21:11:45</text><text class="m" x="571.4" y="1549.4" textLength="127" font-size="15.5">07/04 21:11:50</text><text class="m" x="824" y="1549.4" textLength="127" font-size="15.5">07/04 21:11:55</text><text class="m" x="1076.6" y="1549.4" textLength="127" font-size="15.5">07/04 21:12:00</text><text class="m" x="1329.2" y="1549.4" textLength="127" font-size="15.5">07/04 21:12:05</text><text class="m" x="1581.8" y="1549.4" textLength="127" font-size="15.5">07/04 21:12:10</text></g>
<text class="lab m" transform="translate(59.3 1415.5) rotate(-90)">B(nT)</text>
<rect x="1603.8" y="1311.9" width="72.2" height="72" fill="#fff" stroke="#000" stroke-width="1.5"/>
<line x1="1613" y1="1324.6" x2="1636.5" y2="1324.6" stroke="#f00" stroke-width="2"/><text class="lg" x="1651" y="1329.8">Br</text>
<line x1="1613" y1="1346.7" x2="1636.5" y2="1346.7" stroke="#008000" stroke-width="2"/><text class="lg" x="1651" y="1351.9">Bt</text>
<line x1="1613" y1="1369.2" x2="1636.5" y2="1369.2" stroke="#00f" stroke-width="2"/><text class="lg" x="1651" y="1374.4">Bn</text>

<!-- ============ P2 Flux Rope ============ -->
<text class="ttl" x="900" y="1628.4">Magnetic Field (Flux Rope Frame)</text>
<line x1="116.7" y1="1805.3" x2="1683" y2="1805.3" stroke="#000" stroke-width="1.4" stroke-dasharray="11 8"/>
<rect class="fr" x="116.7" y="1638.9" width="1566.3" height="221.8"/>
<path class="tick" d="M318.8 1860.7v-5.5M571.4 1860.7v-5.5M824 1860.7v-5.5M1076.6 1860.7v-5.5M1329.2 1860.7v-5.5M1581.8 1860.7v-5.5M318.8 1638.9v5.5M571.4 1638.9v5.5M824 1638.9v5.5M1076.6 1638.9v5.5M1329.2 1638.9v5.5M1581.8 1638.9v5.5M116.7 1666.6h5.5M116.7 1694.4h5.5M116.7 1722.1h5.5M116.7 1749.8h5.5M116.7 1777.6h5.5M116.7 1805.3h5.5M116.7 1833h5.5M1683 1666.6h-5.5M1683 1694.4h-5.5M1683 1722.1h-5.5M1683 1749.8h-5.5M1683 1777.6h-5.5M1683 1805.3h-5.5M1683 1833h-5.5"/>
<text class="tk e" x="107.5" y="1644.5">30</text><text class="tk e" x="107.5" y="1672.2">25</text><text class="tk e" x="107.5" y="1700">20</text><text class="tk e" x="107.5" y="1727.7">15</text><text class="tk e" x="107.5" y="1755.4">10</text><text class="tk e" x="107.5" y="1783.2">5</text><text class="tk e" x="107.5" y="1810.9">0</text><text class="tk e" x="107.5" y="1838.6">−5</text><text class="tk e" x="107.5" y="1866.3">−10</text>
<text class="m" x="318.8" y="1883.9" textLength="127" font-size="15.5">07/04 21:11:45</text><text class="m" x="571.4" y="1883.9" textLength="127" font-size="15.5">07/04 21:11:50</text><text class="m" x="824" y="1883.9" textLength="127" font-size="15.5">07/04 21:11:55</text><text class="m" x="1076.6" y="1883.9" textLength="127" font-size="15.5">07/04 21:12:00</text><text class="m" x="1329.2" y="1883.9" textLength="127" font-size="15.5">07/04 21:12:05</text><text class="m" x="1581.8" y="1883.9" textLength="127" font-size="15.5">07/04 21:12:10</text>
<text class="lab m" transform="translate(59.3 1749.8) rotate(-90)">B(nT)</text>
<rect x="1601" y="1645.6" width="75" height="94.1" fill="#fff" stroke="#000" stroke-width="1.5"/>
<line x1="1610" y1="1658.7" x2="1632.5" y2="1658.7" stroke="#f00" stroke-width="2"/><text class="lg" x="1648" y="1663.9">Bx'</text>
<line x1="1610" y1="1680.8" x2="1632.5" y2="1680.8" stroke="#008000" stroke-width="2"/><text class="lg" x="1648" y="1686">By'</text>
<line x1="1610" y1="1703" x2="1632.5" y2="1703" stroke="#00f" stroke-width="2"/><text class="lg" x="1648" y="1708.2">Bz'</text>
<line x1="1610" y1="1724.7" x2="1632.5" y2="1724.7" stroke="#000" stroke-width="2"/><text class="lg" x="1648" y="1729.9">|B|</text>

<!-- ============ P3 Solar Wind ============ -->
<text class="ttl" x="900" y="1961.5">Solar Wind Velocity (RTN Frame)</text>
<g transform="translate(116.7 1940) scale(50.52 0.39541)">
<polyline class="ln" vector-effect="non-scaling-stroke" stroke="#f00" points="0,126 1,93 2,92 3,91 4,92 5,95 6,92 7,95 8,100 9,95 10,94 11,95 12,97 13,95 14,92 15,93 16,93 17,92 18,92 19,89 20,93 21,92 22,93 23,94 24,92 25,97 26,93 27,93 28,93 29,94 30,97 31,97"/>
<polyline class="ln" vector-effect="non-scaling-stroke" stroke="#008000" points="0,561 1,598 2,600 3,600 4,601 5,597 6,600 7,601 8,606 9,596 10,598 11,597 12,595 13,596 14,593 15,591 16,591 17,590 18,587 19,625 20,593 21,593 22,596 23,594 24,587 25,523 26,594 27,595 28,593 29,589 30,584 31,588"/>
<polyline class="ln" vector-effect="non-scaling-stroke" stroke="#00f" points="0,600 1,560 2,565 3,565 4,566 5,563 6,564 7,563 8,561 9,561 10,569 11,562 12,568 13,569 14,569 15,562 16,566 17,563 18,564 19,578 20,564 21,563 22,561 23,561 24,561 25,631 26,558 27,560 28,560 29,559 30,553 31,558"/>
<polyline class="ln" vector-effect="non-scaling-stroke" stroke="#00f" points="0,1480 1,975 2,1012 3,1014 4,962 5,962 6,1081 7,1033 8,947 9,1082 10,1019 11,951 12,986 13,1010 14,1014 15,1053 16,1073 17,1135 18,1147 19,944 20,1103 21,1122 22,1142 23,1077 24,1116 25,1090 26,1048 27,1035 28,1066 29,1040 30,1027 31,1077"/>
</g>
<rect class="fr" x="116.7" y="1971.2" width="1566.3" height="222.3"/>
<path class="tick" d="M318.8 2193.5v-5.5M571.4 2193.5v-5.5M824 2193.5v-5.5M1076.6 2193.5v-5.5M1329.2 2193.5v-5.5M1581.8 2193.5v-5.5M318.8 1971.2v5.5M571.4 1971.2v5.5M824 1971.2v5.5M1076.6 1971.2v5.5M1329.2 1971.2v5.5M1581.8 1971.2v5.5M116.7 2008.3h5.5M116.7 2045.3h5.5M116.7 2082.4h5.5M116.7 2119.4h5.5M116.7 2156.5h5.5M1683 2008.3h-5.5M1683 2045.3h-5.5M1683 2082.4h-5.5M1683 2119.4h-5.5M1683 2156.5h-5.5"/>
<text class="tk e" x="107.5" y="1976.8">250</text><text class="tk e" x="107.5" y="2013.9">200</text><text class="tk e" x="107.5" y="2050.9">150</text><text class="tk e" x="107.5" y="2088">100</text><text class="tk e" x="107.5" y="2125">50</text><text class="tk e" x="107.5" y="2162.1">0</text><text class="tk e" x="107.5" y="2199.1">−50</text>
<text class="m" x="318.8" y="2216.7" textLength="127" font-size="15.5">07/04 21:11:45</text><text class="m" x="571.4" y="2216.7" textLength="127" font-size="15.5">07/04 21:11:50</text><text class="m" x="824" y="2216.7" textLength="127" font-size="15.5">07/04 21:11:55</text><text class="m" x="1076.6" y="2216.7" textLength="127" font-size="15.5">07/04 21:12:00</text><text class="m" x="1329.2" y="2216.7" textLength="127" font-size="15.5">07/04 21:12:05</text><text class="m" x="1581.8" y="2216.7" textLength="127" font-size="15.5">07/04 21:12:10</text>
<text class="lab m" transform="translate(57.6 2082.4) rotate(-90)">Vsw(km/s)</text>
<rect x="1604" y="1978.8" width="72" height="72.3" fill="#fff" stroke="#000" stroke-width="1.5"/>
<line x1="1613" y1="1991.4" x2="1636.5" y2="1991.4" stroke="#f00" stroke-width="2"/><text class="lg" x="1651" y="1996.6">Vr</text>
<line x1="1613" y1="2014" x2="1636.5" y2="2014" stroke="#008000" stroke-width="2"/><text class="lg" x="1651" y="2019.2">Vt</text>
<line x1="1613" y1="2036.9" x2="1636.5" y2="2036.9" stroke="#00f" stroke-width="2"/><text class="lg" x="1651" y="2042.1">Vn</text>

<!-- ============ P4 Plasma Beta ============ -->
<text class="ttl" x="900" y="2295">Plasma Beta</text>
<rect class="fr" x="116.7" y="2305.8" width="1566.3" height="221.8"/>
<path class="tick" d="M318.8 2527.6v-5.5M571.4 2527.6v-5.5M824 2527.6v-5.5M1076.6 2527.6v-5.5M1329.2 2527.6v-5.5M1581.8 2527.6v-5.5M318.8 2305.8v5.5M571.4 2305.8v5.5M824 2305.8v5.5M1076.6 2305.8v5.5M1329.2 2305.8v5.5M1581.8 2305.8v5.5M116.7 2342.8h5.5M116.7 2404.4h5.5M116.7 2466h5.5M1683 2342.8h-5.5M1683 2404.4h-5.5M1683 2466h-5.5"/>
<text class="tk e" x="107.5" y="2348.4">2.5</text><text class="tk e" x="107.5" y="2410">2.0</text><text class="tk e" x="107.5" y="2471.6">1.5</text><text class="tk e" x="107.5" y="2533.2">1.0</text>
<text class="m" x="318.8" y="2550.8" textLength="127" font-size="15.5">07/04 21:11:45</text><text class="m" x="571.4" y="2550.8" textLength="127" font-size="15.5">07/04 21:11:50</text><text class="m" x="824" y="2550.8" textLength="127" font-size="15.5">07/04 21:11:55</text><text class="m" x="1076.6" y="2550.8" textLength="127" font-size="15.5">07/04 21:12:00</text><text class="m" x="1329.2" y="2550.8" textLength="127" font-size="15.5">07/04 21:12:05</text><text class="m" x="1581.8" y="2550.8" textLength="127" font-size="15.5">07/04 21:12:10</text>
<text class="ser m" transform="translate(64 2416.7) rotate(-90)" font-size="14" fill="#444">β<tspan font-size="9" dy="3">p</tspan></text>

<!-- ============ P5 Density ============ -->
<text class="ttl" x="900" y="2628.5">Proton Number Density</text>
<g transform="translate(116.7 2590) scale(50.52 0.42092)">
<polyline class="ln" vector-effect="non-scaling-stroke" stroke="#00f" points="0,590 1,269 2,284 3,294 4,277 5,275 6,302 7,296 8,254 9,333 10,330 11,312 12,304 13,321 14,340 15,337 16,336 17,338 18,351 19,265 20,330 21,338 22,338 23,313 24,325 25,123 26,297 27,301 28,329 29,317 30,337 31,340"/>
<polyline class="ln" vector-effect="non-scaling-stroke" stroke="#00f" points="0,1430 1,1041 2,1080 3,1116 4,1076 5,1032 6,1089 7,1049 8,1008 9,1063 10,1051 11,1020 12,1031 13,1042 14,1076 15,1091 16,1054 17,1083 18,1088 19,934 20,1064 21,1096 22,1102 23,1045 24,1103 25,1233 26,1070 27,1065 28,1096 29,1056 30,1037 31,1018"/>
</g>
<rect class="fr" x="116.7" y="2638.8" width="1566.3" height="221.8"/>
<path class="tick" d="M318.8 2860.6v-5.5M571.4 2860.6v-5.5M824 2860.6v-5.5M1076.6 2860.6v-5.5M1329.2 2860.6v-5.5M1581.8 2860.6v-5.5M318.8 2638.8v5.5M571.4 2638.8v5.5M824 2638.8v5.5M1076.6 2638.8v5.5M1329.2 2638.8v5.5M1581.8 2638.8v5.5M116.7 2663.4h5.5M116.7 2688.1h5.5M116.7 2712.7h5.5M116.7 2737.4h5.5M116.7 2762h5.5M116.7 2786.6h5.5M116.7 2811.3h5.5M116.7 2835.9h5.5M1683 2663.4h-5.5M1683 2688.1h-5.5M1683 2712.7h-5.5M1683 2737.4h-5.5M1683 2762h-5.5M1683 2786.6h-5.5M1683 2811.3h-5.5M1683 2835.9h-5.5"/>
<text class="tk e" x="107.5" y="2644.4">440</text><text class="tk e" x="107.5" y="2669">420</text><text class="tk e" x="107.5" y="2693.7">400</text><text class="tk e" x="107.5" y="2718.3">380</text><text class="tk e" x="107.5" y="2743">360</text><text class="tk e" x="107.5" y="2767.6">340</text><text class="tk e" x="107.5" y="2792.2">320</text><text class="tk e" x="107.5" y="2816.9">300</text><text class="tk e" x="107.5" y="2841.5">280</text><text class="tk e" x="107.5" y="2866.2">260</text>
<text class="m" x="318.8" y="2883.8" textLength="127" font-size="15.5">07/04 21:11:45</text><text class="m" x="571.4" y="2883.8" textLength="127" font-size="15.5">07/04 21:11:50</text><text class="m" x="824" y="2883.8" textLength="127" font-size="15.5">07/04 21:11:55</text><text class="m" x="1076.6" y="2883.8" textLength="127" font-size="15.5">07/04 21:12:00</text><text class="m" x="1329.2" y="2883.8" textLength="127" font-size="15.5">07/04 21:12:05</text><text class="m" x="1581.8" y="2883.8" textLength="127" font-size="15.5">07/04 21:12:10</text>
<text class="lab m" transform="translate(62.2 2749.7) rotate(-90)">Np(#/cc)</text>

<!-- ============ P6 Temperature ============ -->
<text class="ttls" x="729" y="2962.5">Proton Temperature and</text>
<text class="ser" x="1015" y="2962.5" font-size="22">T<tspan font-size="14" dy="4">e</tspan><tspan dy="-4">/T</tspan><tspan font-size="14" dy="4">p</tspan></text>
<rect class="fr" x="116.7" y="2973" width="1566.3" height="221.9"/>
<path class="tick" d="M318.8 3194.9v-5.5M571.4 3194.9v-5.5M824 3194.9v-5.5M1076.6 3194.9v-5.5M1329.2 3194.9v-5.5M1581.8 3194.9v-5.5M318.8 2973v5.5M571.4 2973v5.5M824 2973v5.5M1076.6 2973v5.5M1329.2 2973v5.5M1581.8 2973v5.5M116.7 3004.7h5.5M116.7 3036.4h5.5M116.7 3068.1h5.5M116.7 3099.8h5.5M116.7 3131.5h5.5M116.7 3163.2h5.5M1683 3004.7h-5.5M1683 3036.4h-5.5M1683 3068.1h-5.5M1683 3099.8h-5.5M1683 3131.5h-5.5M1683 3163.2h-5.5"/>
<text class="tk e" x="107.5" y="2978.6">0.14</text><text class="tk e" x="107.5" y="3010.3">0.13</text><text class="tk e" x="107.5" y="3042">0.12</text><text class="tk e" x="107.5" y="3073.7">0.11</text><text class="tk e" x="107.5" y="3105.4">0.10</text><text class="tk e" x="107.5" y="3137.1">0.09</text><text class="tk e" x="107.5" y="3168.8">0.08</text><text class="tk e" x="107.5" y="3200.5">0.07</text>
<text class="m" x="318.8" y="3218.1" textLength="127" font-size="15.5">07/04 21:11:45</text><text class="m" x="571.4" y="3218.1" textLength="127" font-size="15.5">07/04 21:11:50</text><text class="m" x="824" y="3218.1" textLength="127" font-size="15.5">07/04 21:11:55</text><text class="m" x="1076.6" y="3218.1" textLength="127" font-size="15.5">07/04 21:12:00</text><text class="m" x="1329.2" y="3218.1" textLength="127" font-size="15.5">07/04 21:12:05</text><text class="m" x="1581.8" y="3218.1" textLength="127" font-size="15.5">07/04 21:12:10</text>
<text class="lab m" transform="translate(53.5 3084) rotate(-90)">Tp(<tspan font-family="DejaVu Serif, serif">10</tspan><tspan font-family="DejaVu Serif, serif" font-size="10" dy="-7">6</tspan><tspan dy="7">K)</tspan></text>
<rect x="124" y="2979.7" width="70.6" height="27" fill="#fff" stroke="#000" stroke-width="1.5"/>
<line x1="133.8" y1="2993" x2="156" y2="2993" stroke="#00f" stroke-width="2"/><text class="lg" x="171" y="2998.2">Tp</text>
</svg>
</body></html>
